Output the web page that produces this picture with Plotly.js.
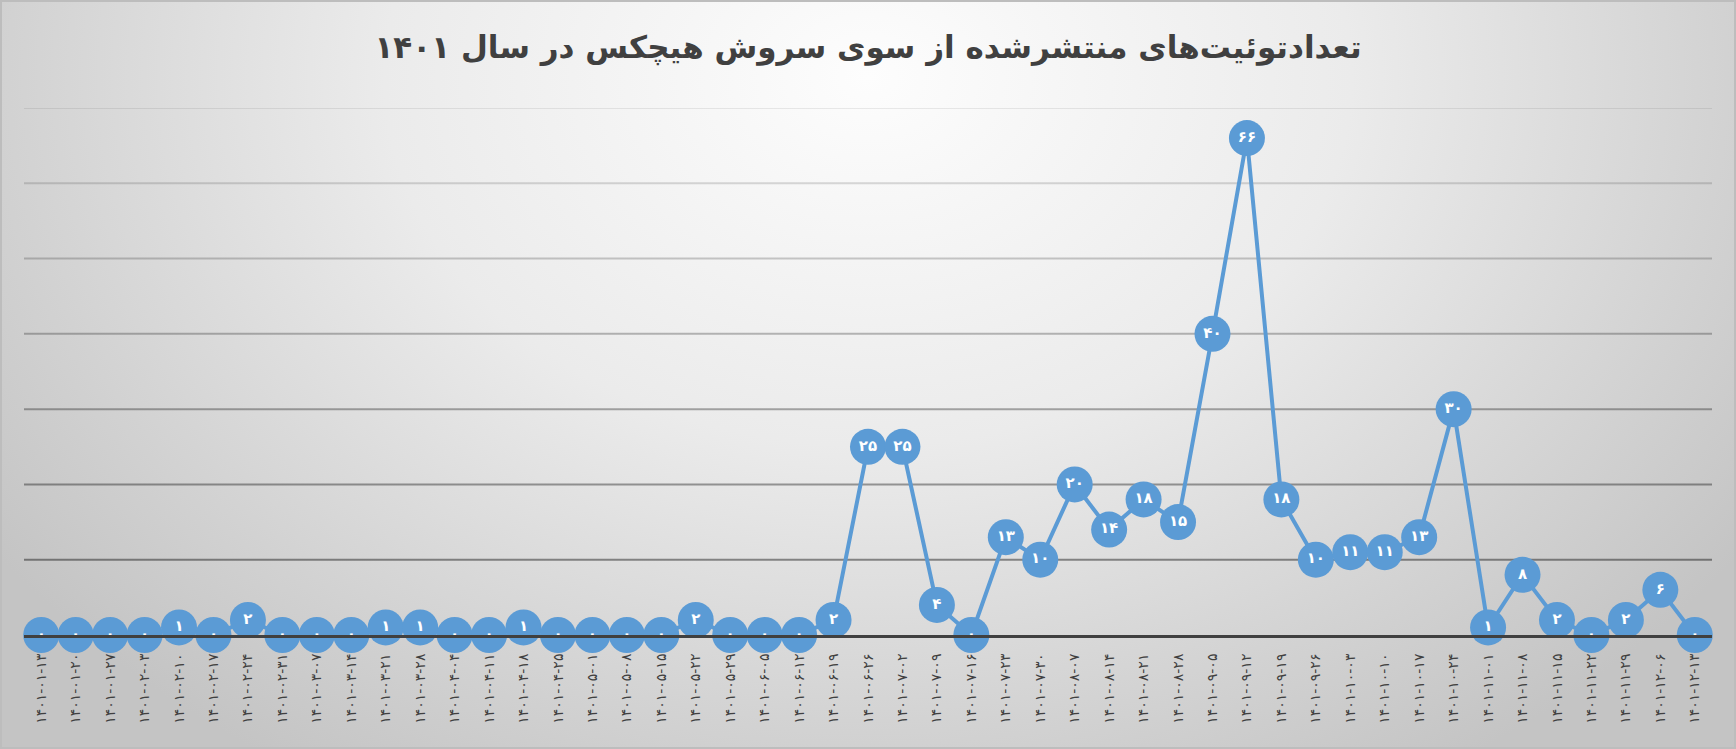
<!DOCTYPE html>
<html>
<head>
<meta charset="utf-8">
<script src="https://cdn.plot.ly/plotly-3.0.1.min.js"></script>
<style>
  html, body { margin: 0; padding: 0; }
  #chart {
    width: 1736px; height: 749px; box-sizing: border-box;
    border: 2px solid #bdbdbd;
    background: radial-gradient(ellipse 62% 110% at 50% 10%, #fdfdfd 0%, #ebebeb 45%, #d2d2d2 80%, #c4c4c4 100%);
  }
</style>
</head>
<body>
<div id="chart"></div>
<script>
const dates = [
  "1401-01-13","1401-01-20","1401-01-27","1401-02-03","1401-02-10","1401-02-17","1401-02-24",
  "1401-02-31","1401-03-07","1401-03-14","1401-03-21","1401-03-28","1401-04-04","1401-04-11",
  "1401-04-18","1401-04-25","1401-05-01","1401-05-08","1401-05-15","1401-05-22","1401-05-29",
  "1401-06-05","1401-06-12","1401-06-19","1401-06-26","1401-07-02","1401-07-09","1401-07-16",
  "1401-07-23","1401-07-30","1401-08-07","1401-08-14","1401-08-21","1401-08-28","1401-09-05",
  "1401-09-12","1401-09-19","1401-09-26","1401-10-03","1401-10-10","1401-10-17","1401-10-24",
  "1401-11-01","1401-11-08","1401-11-15","1401-11-22","1401-11-29","1401-12-06","1401-12-13"
];
const tweets = [
  0,0,0,0,1,0,2,
  0,0,0,1,1,0,0,
  1,0,0,0,0,2,0,
  0,0,2,25,25,4,0,
  13,10,20,14,18,15,40,
  66,18,10,11,11,13,30,
  1,8,2,0,2,6,0
];
const gridValues = [10,20,30,40,50,60,70];
const gridAlpha  = [0.42,0.37,0.32,0.26,0.2,0.14,0.08];
const titleText = "تعدادتوئیت‌های منتشرشده از سوی سروش هیچکس در سال ۱۴۰۱";

const faDigits = "۰۱۲۳۴۵۶۷۸۹";
const toFa = s => String(s).replace(/[0-9]/g, d => faDigits[+d]);
const idx = dates.map((d, i) => i);

const trace = {
  x: idx,
  y: tweets,
  type: "scatter",
  mode: "lines+markers+text",
  line: { color: "#5B9BD5", width: 4 },
  marker: { color: "#5B9BD5", size: 36 },
  text: tweets.map(toFa),
  textposition: "middle center",
  textfont: { family: "DejaVu Sans", size: 15, color: "#ffffff", weight: "bold" },
  cliponaxis: false,
  hoverinfo: "skip"
};

const shapes = gridValues.map((v, i) => ({
  type: "line", xref: "paper", yref: "y", x0: 0, x1: 1, y0: v, y1: v,
  layer: "below", line: { color: "rgba(0,0,0," + gridAlpha[i] + ")", width: 2 }
}));

const layout = {
  width: 1732, height: 745,
  margin: { l: 22, r: 22, t: 106, b: 112 },
  paper_bgcolor: "rgba(0,0,0,0)",
  plot_bgcolor: "rgba(0,0,0,0)",
  showlegend: false,
  title: {
    text: "<b>" + titleText + "</b>",
    font: { family: "DejaVu Sans", size: 31, color: "#404040" },
    x: 0.5, xanchor: "center", y: 0.94, yanchor: "middle", yref: "container"
  },
  xaxis: {
    type: "linear",
    range: [-0.5, dates.length - 0.5],
    tickmode: "array",
    tickvals: idx,
    ticktext: dates.map(toFa),
    tickangle: -90,
    tickfont: { family: "DejaVu Sans", size: 14, color: "#404040" },
    showgrid: false, zeroline: false,
    showline: true, linecolor: "#404040", linewidth: 3,
    ticks: "", ticklabelstandoff: 10,
    fixedrange: true
  },
  yaxis: {
    range: [0, 70],
    showgrid: false, zeroline: false, showticklabels: false, showline: false,
    fixedrange: true
  },
  shapes: shapes
};

Plotly.newPlot("chart", [trace], layout, { displayModeBar: false, staticPlot: true });
</script>
</body>
</html>
